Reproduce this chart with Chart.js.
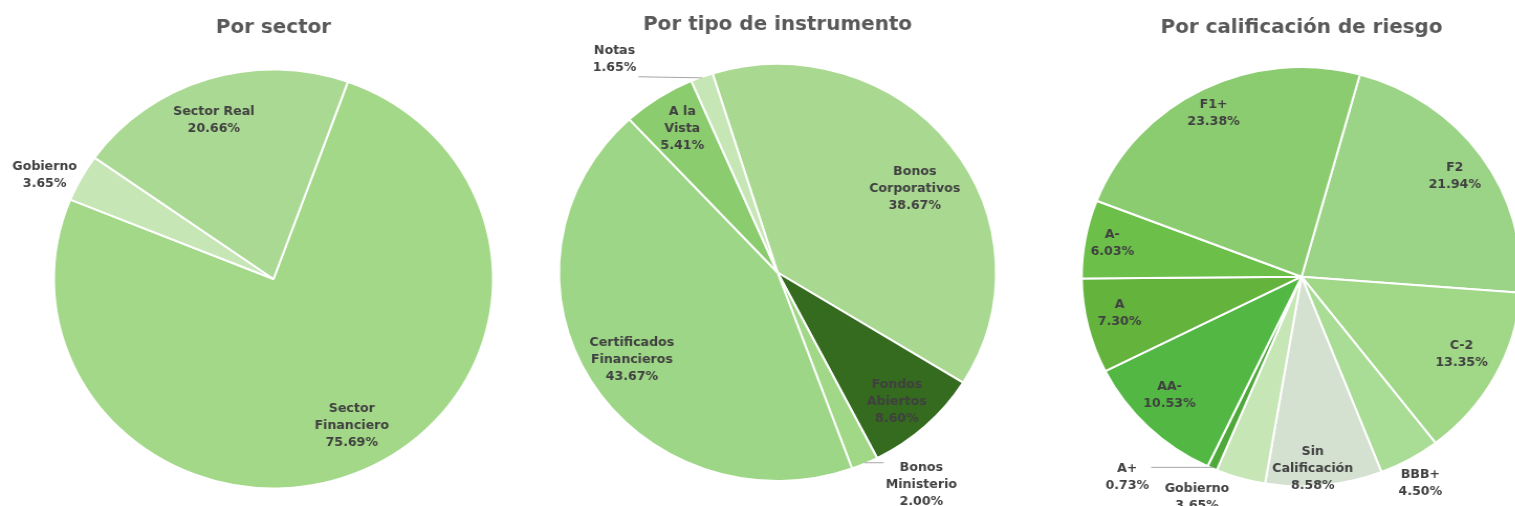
<!DOCTYPE html>
<html>
<head>
<meta charset="utf-8">
<script src="https://cdn.jsdelivr.net/npm/chart.js@4/dist/chart.umd.min.js"></script>
<style>
  body { margin: 0; width: 1515px; height: 506px; overflow: hidden; background: #fff; }
  .pie { position: absolute; top: 0; width: 480px; height: 506px; transform: scaleX(1.048); transform-origin: 0 0; }
</style>
</head>
<body>
<div class="pie" style="left:1px; width:520px"><canvas id="sectorChart"></canvas></div>
<div class="pie" style="left:526px"><canvas id="instrumentChart"></canvas></div>
<div class="pie" style="left:1050px"><canvas id="ratingChart"></canvas></div>
<script>
// Por sector
const sectorLabels = ['Sector\nFinanciero', 'Gobierno', 'Sector Real'];
const sectorValues = [75.69, 3.65, 20.66];
const sectorColors = ['#a2d887', '#c6e6b6', '#a9d993'];

// Por tipo de instrumento
const instrumentLabels = ['Bonos\nCorporativos', 'Fondos\nAbiertos', 'Bonos\nMinisterio', 'Certificados\nFinancieros', 'A la\nVista', 'Notas'];
const instrumentValues = [38.67, 8.60, 2.00, 43.67, 5.41, 1.65];
const instrumentColors = ['#a9d991', '#356b1f', '#a0d888', '#9dd686', '#8bcc6f', '#c6e6b6'];

// Por calificación de riesgo
const ratingLabels = ['F2', 'C-2', 'BBB+', 'Sin\nCalificación', 'Gobierno', 'A+', 'AA-', 'A', 'A-', 'F1+'];
const ratingValues = [21.94, 13.35, 4.50, 8.58, 3.65, 0.73, 10.53, 7.30, 6.03, 23.38];
const ratingColors = ['#9cd487', '#a0d888', '#a9dc94', '#d4e0d0', '#c6e6b6', '#4fa83a', '#52b843', '#63b33d', '#6cc04a', '#8acc6f'];

const labelFont = 'bold 12px "DejaVu Sans"';
const lineGap = 17;

// draws the "name / pct" labels Excel-style, with leader lines where asked
function sliceLabels(place) {
  return {
    id: 'sliceLabels',
    afterDatasetsDraw(chart) {
      const ctx = chart.ctx;
      const meta = chart.getDatasetMeta(0);
      const values = chart.data.datasets[0].data;
      ctx.save();
      ctx.font = labelFont;
      meta.data.forEach((arc, i) => {
        const p = arc.getProps(['x', 'y', 'startAngle', 'endAngle', 'outerRadius'], true);
        const mid = (p.startAngle + p.endAngle) / 2;
        const ang = mid + place.turn[i] * Math.PI / 180;
        const r = (p.outerRadius - 1) * place.dist[i];
        const lx = p.x + Math.cos(ang) * r;
        const ly = p.y + Math.sin(ang) * r;
        const lines = chart.data.labels[i].split('\n').concat(values[i].toFixed(2) + '%');
        const w = Math.max(...lines.map(t => ctx.measureText(t).width));
        const h = lines.length * lineGap;

        if (place.lead && place.lead[i]) {
          const ex = p.x + Math.cos(mid) * (p.outerRadius - 1);
          const ey = p.y + Math.sin(mid) * (p.outerRadius - 1);
          const bx = Math.min(Math.max(ex, lx - w / 2 - 2), lx + w / 2 + 2);
          const by = Math.min(Math.max(ey, ly - h / 2), ly + h / 2);
          ctx.strokeStyle = '#a6a6a6';
          ctx.lineWidth = 1;
          ctx.beginPath();
          ctx.moveTo(bx, by);
          ctx.lineTo(ex, ey);
          ctx.stroke();
        }

        ctx.fillStyle = '#404040';
        ctx.textAlign = 'center';
        ctx.textBaseline = 'middle';
        lines.forEach((t, k) => {
          ctx.fillText(t, lx, ly + (k - (lines.length - 1) / 2) * lineGap);
        });
      });
      ctx.restore();
    }
  };
}

function drawPie(id, title, labels, values, colors, opts) {
  new Chart(document.getElementById(id), {
    type: 'pie',
    data: {
      labels,
      datasets: [{ data: values, backgroundColor: colors, borderColor: '#ffffff', borderWidth: 2 }]
    },
    options: {
      responsive: true,
      maintainAspectRatio: false,
      animation: false,
      rotation: opts.rotation,
      layout: { padding: { bottom: opts.padBottom } },
      plugins: {
        legend: { display: false },
        tooltip: { enabled: false },
        title: {
          display: true,
          text: title,
          color: '#595959',
          font: { family: '"DejaVu Sans"', size: 19, weight: 'bold' },
          padding: { top: opts.titleTop, bottom: opts.titleBottom }
        }
      }
    },
    plugins: [sliceLabels(opts.place)]
  });
}

drawPie('sectorChart', 'Por sector', sectorLabels, sectorValues, sectorColors, {
  rotation: 19.8, titleTop: 16.6, titleBottom: 29.1, padBottom: 16.5,
  place: { dist: [0.79, 1.16, 0.81], turn: [-3, -3.4, -2.3] }
});

drawPie('instrumentChart', 'Por tipo de instrumento', instrumentLabels, instrumentValues, instrumentColors, {
  rotation: -17.3, titleTop: 13.6, titleBottom: 26.6, padBottom: 24,
  place: {
    dist: [0.75, 0.83, 1.22, 0.79, 0.82, 1.27],
    turn: [5, 1.2, -9.3, -0.7, 0.7, -15.9],
    lead: [false, false, true, false, false, true]
  }
});

drawPie('ratingChart', 'Por calificación de riesgo', ratingLabels, ratingValues, ratingColors, {
  rotation: 15.4, titleTop: 16.6, titleBottom: 26.6, padBottom: 18.6,
  place: {
    dist: [0.85, 0.82, 1.13, 0.92, 1.16, 1.25, 0.83, 0.85, 0.88, 0.88],
    turn: [0.6, -1.6, 0.7, 2.7, 8.2, 15.6, 2.4, 1.8, 0.2, -0.5],
    lead: [false, false, false, false, false, true, false, false, false, false]
  }
});
</script>
</body>
</html>
